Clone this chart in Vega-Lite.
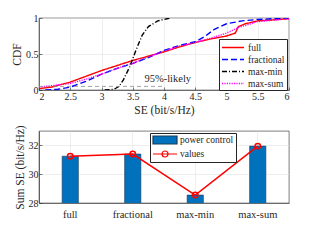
{
  "$schema": "https://vega.github.io/schema/vega-lite/v6.json",
  "padding": {"left": 11, "top": 12, "right": 30, "bottom": 5},
  "spacing": 8,
  "resolve": {
    "scale": {"color": "independent", "strokeDash": "independent", "fill": "independent", "shape": "independent", "stroke": "independent"},
    "legend": {"color": "independent", "strokeDash": "independent", "fill": "independent", "shape": "independent", "stroke": "independent"}
  },
  "config": {
    "font": "Liberation Serif",
    "view": {"stroke": "#262626", "strokeWidth": 0.6},
    "axis": {
      "labelFont": "Liberation Serif", "titleFont": "Liberation Serif",
      "labelFontSize": 10, "titleFontSize": 11.5, "titleFontWeight": "normal",
      "labelColor": "#262626", "titleColor": "#262626",
      "domainColor": "#262626", "domainWidth": 0.6,
      "tickColor": "#262626", "tickWidth": 0.6, "tickSize": -3,
      "gridColor": "#e3e3e3", "gridWidth": 0.6,
      "labelPadding": 4, "titlePadding": 3, "labelOverlap": false
    },
    "legend": {
      "labelFont": "Liberation Serif", "labelFontSize": 9.5, "labelColor": "#262626",
      "strokeColor": "#262626", "fillColor": "white", "padding": 2,
      "rowPadding": 1, "cornerRadius": 0
    }
  },
  "vconcat": [
    {
      "width": 250, "height": 72,
      "encoding": {
        "x": {"field": "se", "type": "quantitative",
              "scale": {"domain": [2, 6], "nice": false},
              "axis": {"values": [2, 2.5, 3, 3.5, 4, 4.5, 5, 5.5, 6], "format": "~g", "title": "SE (bit/s/Hz)", "grid": true}},
        "y": {"field": "cdf", "type": "quantitative",
              "scale": {"domain": [0, 1], "nice": false},
              "axis": {"values": [0, 0.5, 1], "format": "~g", "title": "CDF", "grid": true}}
      },
      "layer": [
        {
          "data": {"values": [
            {"series": "full", "se": 2.0, "cdf": 0.02},
            {"series": "full", "se": 2.2, "cdf": 0.04},
            {"series": "full", "se": 2.5, "cdf": 0.11},
            {"series": "full", "se": 2.75, "cdf": 0.19},
            {"series": "full", "se": 3.0, "cdf": 0.27},
            {"series": "full", "se": 3.25, "cdf": 0.34},
            {"series": "full", "se": 3.5, "cdf": 0.41},
            {"series": "full", "se": 3.75, "cdf": 0.47},
            {"series": "full", "se": 4.0, "cdf": 0.53},
            {"series": "full", "se": 4.25, "cdf": 0.6},
            {"series": "full", "se": 4.5, "cdf": 0.66},
            {"series": "full", "se": 4.75, "cdf": 0.71},
            {"series": "full", "se": 5.0, "cdf": 0.75},
            {"series": "full", "se": 5.14, "cdf": 0.79},
            {"series": "full", "se": 5.19, "cdf": 0.88},
            {"series": "full", "se": 5.3, "cdf": 0.92},
            {"series": "full", "se": 5.5, "cdf": 0.96},
            {"series": "full", "se": 6.0, "cdf": 0.99},
            {"series": "fractional", "se": 2.1, "cdf": 0.0},
            {"series": "fractional", "se": 2.3, "cdf": 0.01},
            {"series": "fractional", "se": 2.5, "cdf": 0.04},
            {"series": "fractional", "se": 2.75, "cdf": 0.12},
            {"series": "fractional", "se": 3.0, "cdf": 0.22},
            {"series": "fractional", "se": 3.25, "cdf": 0.3},
            {"series": "fractional", "se": 3.5, "cdf": 0.37},
            {"series": "fractional", "se": 3.75, "cdf": 0.45},
            {"series": "fractional", "se": 4.0, "cdf": 0.55},
            {"series": "fractional", "se": 4.25, "cdf": 0.62},
            {"series": "fractional", "se": 4.5, "cdf": 0.67},
            {"series": "fractional", "se": 4.65, "cdf": 0.74},
            {"series": "fractional", "se": 4.8, "cdf": 0.84},
            {"series": "fractional", "se": 5.0, "cdf": 0.92},
            {"series": "fractional", "se": 5.25, "cdf": 0.96},
            {"series": "fractional", "se": 5.5, "cdf": 0.98},
            {"series": "fractional", "se": 6.0, "cdf": 1.0},
            {"series": "max-min", "se": 3.05, "cdf": 0.0},
            {"series": "max-min", "se": 3.2, "cdf": 0.01},
            {"series": "max-min", "se": 3.28, "cdf": 0.05},
            {"series": "max-min", "se": 3.35, "cdf": 0.14},
            {"series": "max-min", "se": 3.45, "cdf": 0.32},
            {"series": "max-min", "se": 3.55, "cdf": 0.55},
            {"series": "max-min", "se": 3.65, "cdf": 0.76},
            {"series": "max-min", "se": 3.75, "cdf": 0.88},
            {"series": "max-min", "se": 3.9, "cdf": 0.96},
            {"series": "max-min", "se": 4.1, "cdf": 1.0},
            {"series": "max-sum", "se": 2.0, "cdf": 0.04},
            {"series": "max-sum", "se": 2.5, "cdf": 0.09},
            {"series": "max-sum", "se": 2.75, "cdf": 0.15},
            {"series": "max-sum", "se": 3.0, "cdf": 0.22},
            {"series": "max-sum", "se": 3.25, "cdf": 0.3},
            {"series": "max-sum", "se": 3.5, "cdf": 0.37},
            {"series": "max-sum", "se": 3.75, "cdf": 0.46},
            {"series": "max-sum", "se": 4.0, "cdf": 0.54},
            {"series": "max-sum", "se": 4.25, "cdf": 0.61},
            {"series": "max-sum", "se": 4.5, "cdf": 0.66},
            {"series": "max-sum", "se": 4.75, "cdf": 0.72},
            {"series": "max-sum", "se": 5.0, "cdf": 0.79},
            {"series": "max-sum", "se": 5.2, "cdf": 0.87},
            {"series": "max-sum", "se": 5.5, "cdf": 0.95},
            {"series": "max-sum", "se": 6.0, "cdf": 0.99}
          ]},
          "mark": {"type": "line", "strokeWidth": 1.4, "clip": true},
          "encoding": {
            "color": {"field": "series", "type": "nominal",
                      "scale": {"domain": ["full", "fractional", "max-min", "max-sum"], "range": ["#FF0000", "#0000FF", "#000000", "#FF00FF"]},
                      "legend": {"title": null, "orient": "none", "legendX": 180, "legendY": 21, "symbolType": "M-1,0H3", "symbolSize": 121, "symbolStrokeWidth": 1.5, "labelOffset": 14}},
            "strokeDash": {"field": "series", "type": "nominal",
                           "scale": {"domain": ["full", "fractional", "max-min", "max-sum"], "range": [[1, 0], [6, 3], [5, 2, 1, 2], [1.2, 1.2]]},
                           "legend": {"title": null, "orient": "none", "legendX": 180, "legendY": 21, "symbolType": "M-1,0H3", "symbolSize": 121, "symbolStrokeWidth": 1.5, "labelOffset": 14}}
          }
        },
        {
          "data": {"values": [{"se": 2, "se2": 3.98, "cdf": 0.05}]},
          "mark": {"type": "rule", "color": "#8c8c8c", "strokeDash": [4, 3], "strokeWidth": 0.8},
          "encoding": {"x2": {"field": "se2"}}
        },
        {
          "data": {"values": [{"se": 4.06, "cdf": 0.15, "label": "95%-likely"}]},
          "mark": {"type": "text", "fontSize": 10.5, "font": "Liberation Serif", "color": "#262626"},
          "encoding": {"text": {"field": "label"}}
        }
      ]
    },
    {
      "width": 250, "height": 72,
      "data": {"values": [
        {"scheme": "full", "sumse": 31.25},
        {"scheme": "fractional", "sumse": 31.4},
        {"scheme": "max-min", "sumse": 28.55},
        {"scheme": "max-sum", "sumse": 31.95}
      ]},
      "encoding": {
        "x": {"field": "scheme", "type": "nominal", "sort": null,
              "scale": {"paddingInner": 0.74, "paddingOuter": 0.37},
              "axis": {"title": null, "labelAngle": 0, "grid": true, "bandPosition": 0.5, "ticks": false, "labelPadding": 6, "labelFontSize": 10.5}},
        "y": {"field": "sumse", "type": "quantitative",
              "scale": {"domain": [28, 33], "nice": false, "zero": false},
              "axis": {"values": [28, 30, 32], "title": "Sum SE (bit/s/Hz)", "grid": true}}
      },
      "layer": [
        {
          "mark": {"type": "bar", "stroke": "#1b3a57", "strokeWidth": 0.6, "clip": true},
          "encoding": {
            "fill": {"datum": "power control", "type": "nominal",
                     "scale": {"domain": ["power control", "values"], "range": ["#0072BD", "transparent"]},
                     "legend": {"title": null, "orient": "none", "legendX": 111, "legendY": 2, "symbolSize": 64, "labelOffset": 18, "symbolOpacity": 1, "symbolStrokeWidth": 1.2}}
          }
        },
        {
          "mark": {"type": "line", "color": "#FF0000", "strokeWidth": 1.5},
          "encoding": {}
        },
        {
          "mark": {"type": "point", "shape": "circle", "filled": false, "color": "#FF0000", "size": 30, "strokeWidth": 1.5, "opacity": 1},
          "encoding": {}
        },
        {
          "mark": {"type": "point", "opacity": 0, "size": 30},
          "encoding": {
            "fill": {"datum": "values", "type": "nominal"},
            "shape": {"datum": "values", "type": "nominal",
                      "scale": {"domain": ["power control", "values"], "range": ["M-1,-1H5V1H-1Z", "M-1,0H5M2.75,0A0.75,0.75,0,1,1,1.25,0A0.75,0.75,0,1,1,2.75,0"]},
                      "legend": {"title": null, "orient": "none", "legendX": 111, "legendY": 2, "symbolSize": 64, "labelOffset": 18, "symbolOpacity": 1, "symbolStrokeWidth": 1.2}},
            "stroke": {"datum": "values", "type": "nominal",
                       "scale": {"domain": ["power control", "values"], "range": ["#1b3a57", "#FF0000"]},
                       "legend": {"title": null, "orient": "none", "legendX": 111, "legendY": 2, "symbolSize": 64, "labelOffset": 18, "symbolOpacity": 1, "symbolStrokeWidth": 1.2}}
          }
        }
      ]
    }
  ]
}
